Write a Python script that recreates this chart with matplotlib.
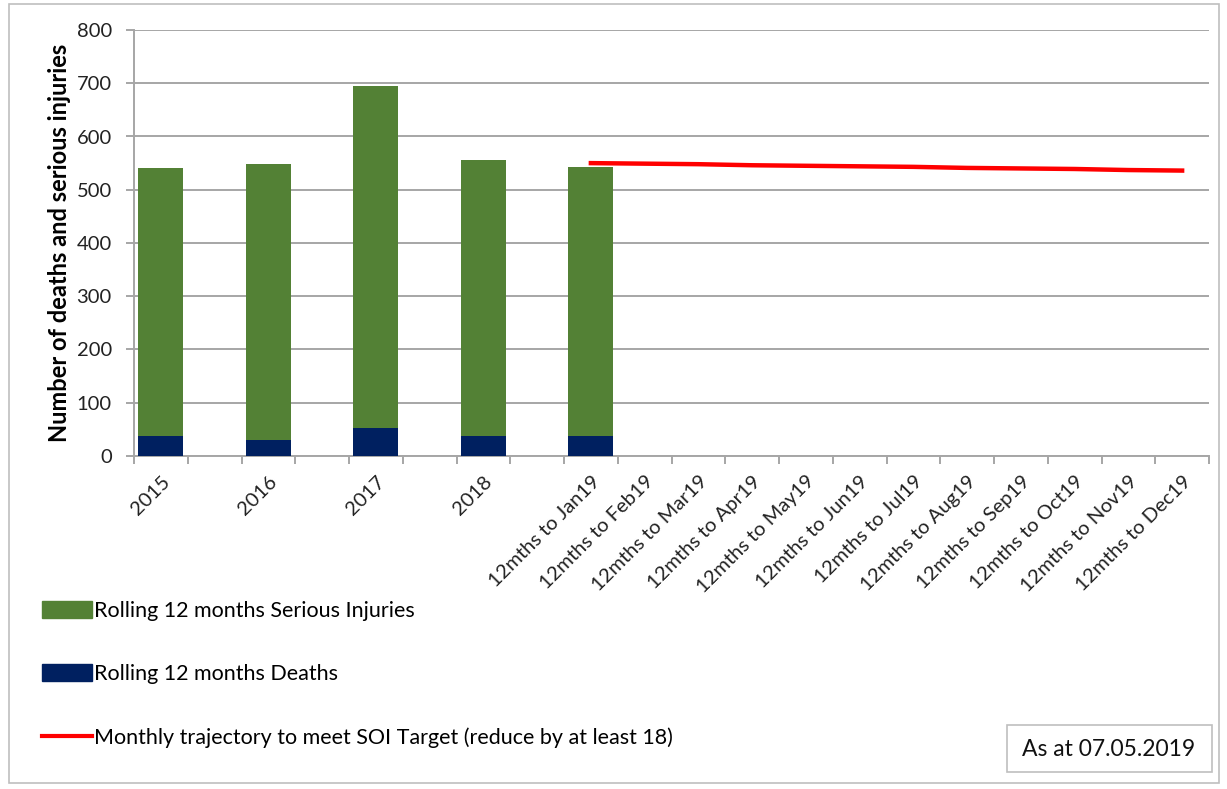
import matplotlib
matplotlib.use('Agg')
import matplotlib.pyplot as plt
from matplotlib.patches import Patch, Rectangle
from matplotlib.lines import Line2D
import numpy as np

plt.rcParams['font.family'] = ['Lato', 'DejaVu Sans']

months = ['Jan19', 'Feb19', 'Mar19', 'Apr19', 'May19', 'Jun19', 'Jul19',
          'Aug19', 'Sep19', 'Oct19', 'Nov19', 'Dec19']
categories = ['2015', '', '2016', '', '2017', '', '2018', ''] + ['12mths to ' + m for m in months]

nan = np.nan
deaths = [37, nan, 30, nan, 52, nan, 37, nan, 37] + [nan] * 11
serious = [504, nan, 518, nan, 642, nan, 519, nan, 505] + [nan] * 11
trajectory = [nan] * 8 + [550, 549, 548, 546, 545, 544, 543, 541, 540, 539, 537, 536]

green = '#538135'
navy = '#002060'
red = '#FF0000'
grid_col = '#A6A6A6'

fig = plt.figure(figsize=(12.27, 7.89), dpi=100)
ax = fig.add_axes([134 / 1227, 1 - 456 / 789, 1075 / 1227, 426 / 789])

x = np.arange(len(categories))
d = np.array(deaths, dtype=float)
s = np.array(serious, dtype=float)
has = ~np.isnan(d)
ax.bar(x[has], d[has], width=0.84, color=navy, zorder=3)
ax.bar(x[has], s[has], bottom=d[has], width=0.84, color=green, zorder=3)
ax.plot(x, trajectory, color=red, lw=3.2, zorder=4)

ax.set_xlim(-0.5, len(categories) - 0.5)
ax.set_ylim(0, 800)
ax.set_yticks(range(0, 801, 100))
ax.yaxis.grid(True, color=grid_col, lw=1.4)
ax.set_axisbelow(True)

ax.set_xticks(np.arange(-0.5, len(categories)), [''] * (len(categories) + 1))
ax.set_xticks(x, categories, minor=True, rotation=45, ha='right', rotation_mode='anchor')
ax.tick_params(axis='x', which='major', length=6, color=grid_col, width=1.4)
ax.tick_params(axis='x', which='minor', length=0, pad=12, labelsize=14.5, labelcolor='#222222')
ax.tick_params(axis='y', length=6, color=grid_col, width=1.4, labelsize=14.5,
               labelcolor='#222222', pad=10)

for side in ['top', 'right']:
    ax.spines[side].set_visible(False)
for side in ['left', 'bottom']:
    ax.spines[side].set_color(grid_col)
    ax.spines[side].set_linewidth(1.4)

ax.set_ylabel('Number of deaths and serious injuries', fontsize=17, fontweight='bold', labelpad=4)

handles = [Patch(color=green), Patch(color=navy), Line2D([0], [0], color=red, lw=3)]
labels = ['Rolling 12 months Serious Injuries', 'Rolling 12 months Deaths',
          'Monthly trajectory to meet SOI Target (reduce by at least 18)']
fig.legend(handles, labels, loc='upper left', bbox_to_anchor=(33 / 1227, 1 - 592 / 789),
           frameon=False, fontsize=15.5, handlelength=2.33, handleheight=0.84,
           handletextpad=0.12, labelspacing=2.02, borderaxespad=0)

fig.patches.append(Rectangle((9 / 1227, 1 - 783 / 789), 1210 / 1227, 779 / 789,
                             transform=fig.transFigure, fill=False, edgecolor='#BFBFBF', lw=1.2))
fig.patches.append(Rectangle((1007 / 1227, 1 - 772 / 789), 205 / 1227, 47 / 789,
                             transform=fig.transFigure, fill=False, edgecolor='#BFBFBF', lw=1.2))
fig.text(1022 / 1227, 1 - 749 / 789, 'As at 07.05.2019', fontsize=16.5, va='center', color='#111111')

fig.savefig('out.png', dpi=100)
